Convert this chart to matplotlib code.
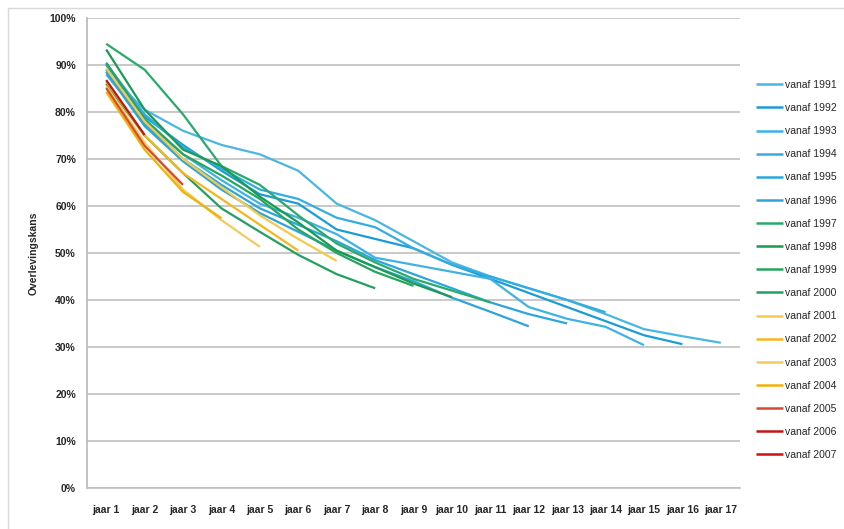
import numpy as np
import matplotlib
matplotlib.use('Agg')
import matplotlib.pyplot as plt
from matplotlib.lines import Line2D

# Overlevingskans per startjaar (fractie nog aanwezig na n jaar)
jaren = ['jaar %d' % i for i in range(1, 18)]

s1991 = [88.5, 80.5, 76.0, 73.0, 71.0, 67.5, 60.5, 57.0, 52.5, 48.0, 45.0, 42.5, 40.0, 37.0, 33.8, 32.3, 30.9]
s1992 = [90.0, 79.0, 73.0, 67.5, 62.5, 60.5, 55.0, 53.0, 51.0, 47.5, 44.5, 41.5, 38.5, 35.5, 32.5, 30.6]
s1993 = [88.0, 78.0, 71.0, 65.5, 60.5, 57.5, 54.0, 49.0, 47.5, 46.0, 44.5, 38.5, 36.0, 34.3, 30.4]
s1994 = [90.3, 79.5, 72.5, 68.0, 63.5, 61.5, 57.5, 55.5, 51.0, 47.5, 45.0, 42.5, 40.0, 37.4]
s1995 = [89.0, 77.5, 70.0, 64.5, 59.5, 56.0, 52.5, 48.5, 45.5, 42.5, 39.5, 37.0, 35.0]
s1996 = [88.5, 77.0, 69.5, 63.5, 58.5, 54.5, 50.5, 47.0, 44.0, 40.5, 37.5, 34.4]
s1997 = [94.5, 89.0, 79.5, 68.5, 64.5, 58.0, 52.0, 48.0, 44.5, 42.0, 39.5]
s1998 = [93.3, 80.5, 72.0, 68.5, 62.0, 56.5, 50.5, 47.0, 43.5, 40.6]
s1999 = [90.5, 78.5, 71.0, 66.5, 61.5, 55.0, 50.0, 46.0, 43.0]
s2000 = [86.0, 75.0, 67.0, 59.5, 54.5, 49.6, 45.5, 42.5]
s2001 = [89.3, 78.0, 70.0, 64.0, 58.0, 53.0, 48.3]
s2002 = [86.5, 75.0, 67.0, 61.5, 56.0, 50.5]
s2003 = [85.5, 73.5, 63.5, 57.0, 51.3]
s2004 = [84.3, 72.0, 63.0, 57.4]
s2005 = [85.1, 72.8, 64.5]
s2006 = [86.8, 75.1]
s2007 = [84.8]

reeksen = [s1991, s1992, s1993, s1994, s1995, s1996, s1997, s1998, s1999,
           s2000, s2001, s2002, s2003, s2004, s2005, s2006, s2007]
labels = ['vanaf %d' % j for j in range(1991, 2008)]
kleuren = ['#4ab6e2', '#1a9cd8', '#3fb2e2', '#33ade0', '#2aa6dc', '#30a3da',
           '#2aaa6a', '#1b9a52', '#27a55e', '#22a062',
           '#f6ca48', '#f4b81e', '#f2cc5e', '#f0b204',
           '#d8492f', '#c21515', '#cc1111']

fnt = ['Liberation Sans', 'DejaVu Sans']

fig = plt.figure(figsize=(8.44, 5.29), dpi=100)
ax = fig.add_axes([87/844, 1 - 488/529, (740 - 87)/844, (488 - 18)/529])

for y, lab, c in zip(reeksen, labels, kleuren):
    ax.plot(np.arange(len(y)), y, color=c, lw=1.6, label=lab, solid_capstyle='butt')

ax.set_xlim(-0.5, 16.5)
ax.set_ylim(0, 100)
ax.set_yticks(np.arange(0, 101, 10))
ax.set_yticklabels(['%d%%' % v for v in range(0, 101, 10)])
ax.set_xticks(np.arange(17))
ax.set_xticklabels(jaren)
ax.yaxis.grid(True, color='#c0c0c0', lw=1.2)
ax.set_axisbelow(True)
for s in ['top', 'right']:
    ax.spines[s].set_visible(False)
ax.spines['left'].set_color('#b8b8b8')
ax.spines['bottom'].set_color('#c0c0c0')
ax.spines['left'].set_linewidth(1.2)
ax.spines['bottom'].set_linewidth(1.2)
ax.tick_params(length=0)
for t in ax.get_xticklabels():
    t.set_fontfamily(fnt)
    t.set_fontweight('bold')
    t.set_fontsize(7.5)
    t.set_color('#262626')
for t in ax.get_yticklabels():
    t.set_fontfamily(fnt)
    t.set_fontweight('bold')
    t.set_fontsize(7.5)
    t.set_color('#262626')
ax.tick_params(axis='y', pad=8)
ax.tick_params(axis='x', pad=12)

ax.set_ylabel('Overlevingskans', fontsize=7.5, fontweight='bold',
              family=fnt, color='#262626', labelpad=8)

leg = ax.legend(loc='upper left', bbox_to_anchor=(756/844, 1 - 80/529),
                bbox_transform=fig.transFigure, frameon=False,
                fontsize=7.5, handlelength=2.6, handletextpad=0.15,
                labelspacing=1.26, borderaxespad=0, borderpad=0)
for t in leg.get_texts():
    t.set_fontfamily(fnt)
    t.set_color('#262626')
for h in leg.get_lines():
    h.set_linewidth(1.8)

# dunne kader rond de grafiek
fig.add_artist(Line2D([8/844, 1], [1 - 8/529, 1 - 8/529], color='#d9d9d9', lw=1.0))
fig.add_artist(Line2D([8/844, 8/844], [0, 1 - 8/529], color='#d9d9d9', lw=1.0))

fig.savefig('out.png', dpi=100)
